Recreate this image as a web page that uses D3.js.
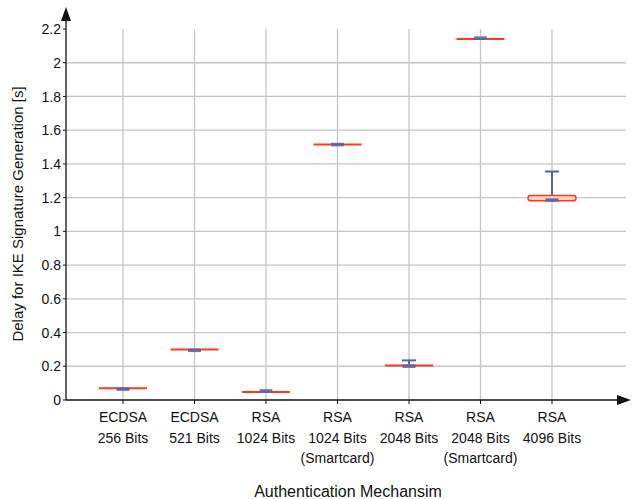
<!DOCTYPE html>
<html>
<head>
<meta charset="utf-8">
<script src="https://cdn.jsdelivr.net/npm/d3@7"></script>
<style>
  body { margin: 0; background: #fff; }
  text { font-family: "Liberation Sans", Arial, sans-serif; font-size: 14px; fill: #111; }
</style>
</head>
<body>
<svg id="chart" width="632" height="499"></svg>
<script>
// categories, as printed under the axis (one entry per line)
var categories = [
  ["ECDSA", "256 Bits"],
  ["ECDSA", "521 Bits"],
  ["RSA", "1024 Bits"],
  ["RSA", "1024 Bits", "(Smartcard)"],
  ["RSA", "2048 Bits"],
  ["RSA", "2048 Bits", "(Smartcard)"],
  ["RSA", "4096 Bits"]
];

// red box: lower quartile, median, upper quartile
var redLow  = [0.070, 0.300, 0.048, 1.515, 0.205, 2.140, 1.182];
var redMed  = [0.070, 0.300, 0.048, 1.515, 0.205, 2.140, 1.200];
var redHigh = [0.070, 0.300, 0.048, 1.515, 0.205, 2.140, 1.212];
// blue box and whisker top
var blueLow  = [0.067, 0.297, 0.050, 1.513, 0.202, 2.138, 1.182];
var blueHigh = [0.075, 0.305, 0.064, 1.525, 0.211, 2.156, 1.196];
var whiskTop = [0.075, 0.305, 0.064, 1.525, 0.235, 2.156, 1.355];

var yTicks = [0, 0.2, 0.4, 0.6, 0.8, 1, 1.2, 1.4, 1.6, 1.8, 2, 2.2];

var svg = d3.select("#chart");
var x0 = 66, y0 = 400;

var x = d3.scalePoint()
    .domain(d3.range(categories.length))
    .range([123, 552]);

var y = d3.scaleLinear()
    .domain([0, 2.2])
    .range([y0, 29]);

var red = "#ff3a1c", blue = "#5864a4";

// grid
svg.append("g").selectAll("line.h")
  .data(yTicks.filter(function(d) { return d > 0 && d < 2.2; }))
  .enter().append("line")
    .attr("x1", x0).attr("x2", 626)
    .attr("y1", function(d) { return y(d); }).attr("y2", function(d) { return y(d); })
    .attr("stroke", "#c4c4c4").attr("stroke-width", 1.3);

svg.append("g").selectAll("line.v")
  .data(d3.range(categories.length))
  .enter().append("line")
    .attr("x1", function(d) { return x(d); }).attr("x2", function(d) { return x(d); })
    .attr("y1", y(2.2)).attr("y2", y0)
    .attr("stroke", "#c4c4c4").attr("stroke-width", 1.3);

// axes with arrow heads
svg.append("line").attr("x1", x0).attr("x2", 622).attr("y1", y0).attr("y2", y0)
   .attr("stroke", "#111").attr("stroke-width", 1.3);
svg.append("path").attr("d", "M631," + y0 + "L617," + (y0 - 5) + "L617," + (y0 + 5) + "Z").attr("fill", "#111");
svg.append("line").attr("x1", x0).attr("x2", x0).attr("y1", y0).attr("y2", 16)
   .attr("stroke", "#111").attr("stroke-width", 1.3);
svg.append("path").attr("d", "M" + x0 + ",7L" + (x0 - 5) + ",21L" + (x0 + 5) + ",21Z").attr("fill", "#111");

// y ticks
var yt = svg.append("g").selectAll("g").data(yTicks).enter().append("g")
    .attr("transform", function(d) { return "translate(" + x0 + "," + y(d) + ")"; });
yt.append("line").attr("x1", -3).attr("x2", 0).attr("stroke", "#111");
yt.append("text").attr("x", -5).attr("dy", "0.36em").attr("text-anchor", "end")
  .text(function(d) { return d; });

// x ticks and labels
var xt = svg.append("g").selectAll("g").data(categories).enter().append("g")
    .attr("transform", function(d, i) { return "translate(" + x(i) + "," + y0 + ")"; });
xt.append("line").attr("y1", 0).attr("y2", 4).attr("stroke", "#111");
xt.each(function(d) {
  var g = d3.select(this);
  d.forEach(function(line, k) {
    g.append("text").attr("text-anchor", "middle").attr("y", 22 + k * 20.5).text(line);
  });
});

// boxes
var idx = d3.range(categories.length);
var marks = svg.append("g");
var hasBox = function(i) { return redHigh[i] - redLow[i] > 0.005; };
var hasWhisk = function(i) { return whiskTop[i] > blueHigh[i] + 0.005; };

// whiskers
marks.selectAll("line.wh").data(idx.filter(hasWhisk))
  .enter().append("line")
    .attr("x1", function(i) { return x(i); }).attr("x2", function(i) { return x(i); })
    .attr("y1", function(i) { return y(whiskTop[i]); }).attr("y2", function(i) { return y(blueHigh[i]); })
    .attr("stroke", blue).attr("stroke-width", 2);
marks.selectAll("line.cap").data(idx.filter(hasWhisk))
  .enter().append("line")
    .attr("x1", function(i) { return x(i) - 7; }).attr("x2", function(i) { return x(i) + 7; })
    .attr("y1", function(i) { return y(whiskTop[i]); }).attr("y2", function(i) { return y(whiskTop[i]); })
    .attr("stroke", blue).attr("stroke-width", 2);

// red boxes (where quartiles differ)
marks.selectAll("rect.red").data(idx.filter(hasBox))
  .enter().append("rect")
    .attr("x", function(i) { return x(i) - 24; }).attr("width", 48)
    .attr("y", function(i) { return y(redHigh[i]); })
    .attr("height", function(i) { return y(redLow[i]) - y(redHigh[i]); })
    .attr("rx", 3)
    .attr("fill", "#ffd2ca").attr("stroke", red).attr("stroke-width", 1.5);

// red medians (flat boxes)
marks.selectAll("line.med").data(idx.filter(function(i) { return !hasBox(i); }))
  .enter().append("line")
    .attr("x1", function(i) { return x(i) - 24; }).attr("x2", function(i) { return x(i) + 24; })
    .attr("y1", function(i) { return y(redMed[i]); }).attr("y2", function(i) { return y(redMed[i]); })
    .attr("stroke", red).attr("stroke-width", 2);

// blue boxes
marks.selectAll("rect.blue").data(idx)
  .enter().append("rect")
    .attr("x", function(i) { return x(i) - 6.5; }).attr("width", 13)
    .attr("y", function(i) { return y(blueHigh[i]); })
    .attr("height", function(i) { return Math.max(3.5, y(blueLow[i]) - y(blueHigh[i])); })
    .attr("fill", blue).attr("fill-opacity", 0.9);

// axis titles
svg.append("text").attr("x", 348).attr("y", 497).attr("text-anchor", "middle")
   .style("font-size", "16px").text("Authentication Mechansim");
svg.append("text").attr("transform", "translate(23,214)rotate(-90)").attr("text-anchor", "middle")
   .style("font-size", "15px").text("Delay for IKE Signature Generation [s]");
</script>
</body>
</html>
